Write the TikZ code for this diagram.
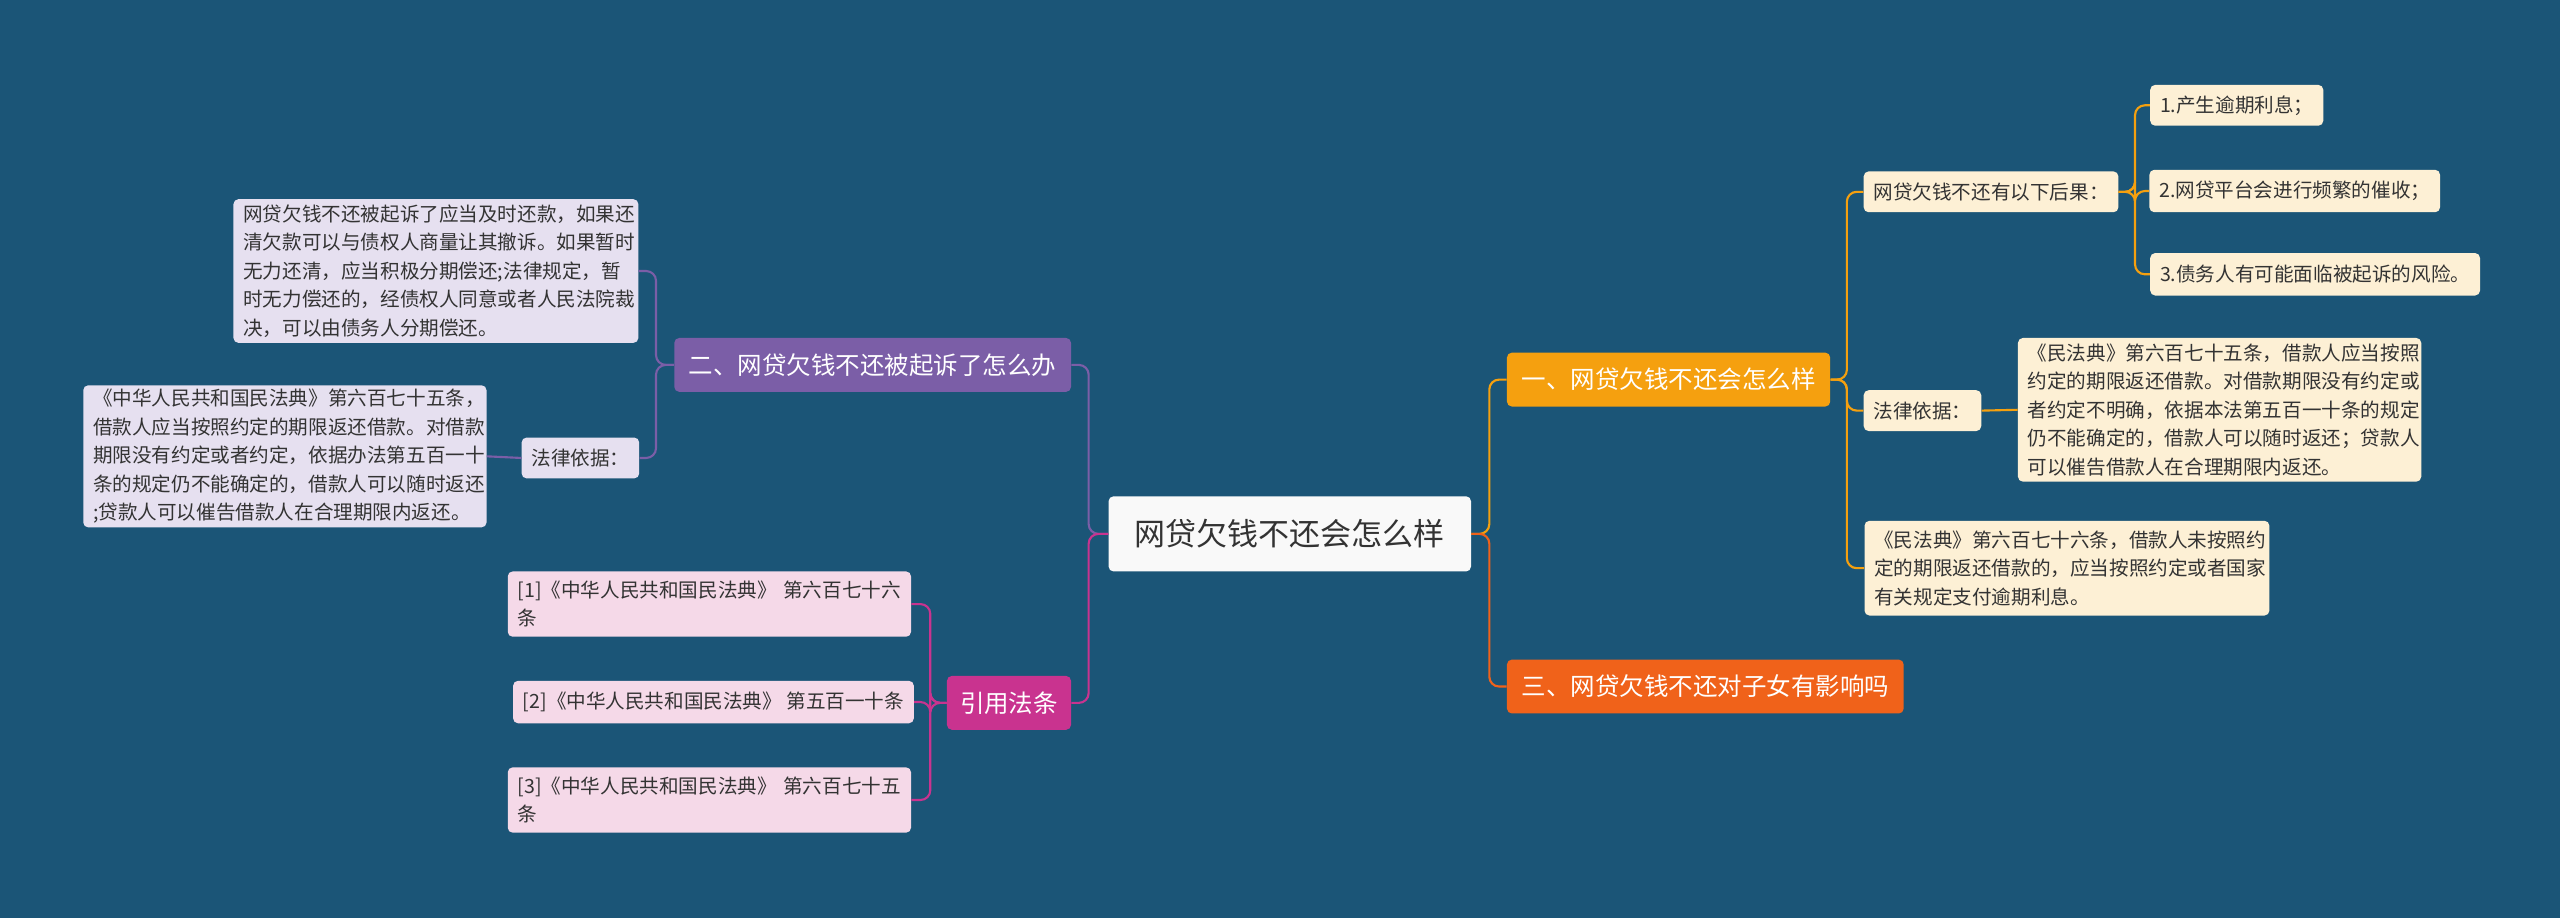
\documentclass[tikz,border=0pt]{standalone}
\usepackage{fontspec}
\setmainfont{Noto Sans CJK SC}
\definecolor{bg}{HTML}{1B5577}
\definecolor{org}{HTML}{F5A00F}
\definecolor{ored}{HTML}{F0621A}
\definecolor{pur}{HTML}{7B5EA7}
\definecolor{mag}{HTML}{C9338F}
\definecolor{cream}{HTML}{FDF0D5}
\definecolor{lav}{HTML}{E6E0F0}
\definecolor{pink}{HTML}{F5D9E8}
\definecolor{txt}{HTML}{333333}
\begin{document}
\begin{tikzpicture}[x=1pt,y=-1pt,
  bx/.style={rounded corners=3pt, inner ysep=0pt, inner xsep=6pt, align=left, text=txt, font=\fontsize{12}{17.5}\selectfont},
  br/.style={rounded corners=3pt, inner sep=0pt, align=center, text=white, font=\fontsize{15}{18}\selectfont},
  ln/.style={line width=1.3pt, rounded corners=6pt}]
\fill[bg] (0,0) rectangle (1568,562);
\useasboundingbox (0,0) rectangle (1568,562);
% center
\node[rounded corners=3pt, fill=white!95!gray, text=txt, font=\fontsize{19}{22}\selectfont, minimum width=222pt, minimum height=46pt, inner sep=0pt] (c) at (790,327) {网贷欠钱不还会怎么样};
% right branches
\node[br, fill=org, minimum width=198pt, minimum height=33pt] (r1) at (1022,232.5) {一、网贷欠钱不还会怎么样};
\node[br, fill=ored, minimum width=243pt, minimum height=33pt] (r2) at (1044.5,420.5) {三、网贷欠钱不还对子女有影响吗};
\node[bx, fill=cream, minimum width=155pt, minimum height=25pt, align=center] (a1) at (1219.5,117.5) {网贷欠钱不还有以下后果：};
\node[bx, fill=cream, minimum width=102pt, minimum height=25pt, align=center] (a11) at (1370,64.5) {1.产生逾期利息；};
\node[bx, fill=cream, minimum width=173pt, minimum height=26pt, align=center] (a12) at (1405.5,117) {2.网贷平台会进行频繁的催收；};
\node[bx, fill=cream, minimum width=198pt, minimum height=26pt, align=center] (a13) at (1418,168) {3.债务人有可能面临被起诉的风险。};
\node[bx, fill=cream, minimum width=71pt, minimum height=25pt, align=center] (a2) at (1177.5,251.5) {法律依据：};
\node[bx, fill=cream, text width=235pt, minimum height=88pt] (a21) at (1359.5,251) {《民法典》第六百七十五条，借款人应当按照\\约定的期限返还借款。对借款期限没有约定或\\者约定不明确，依据本法第五百一十条的规定\\仍不能确定的，借款人可以随时返还；贷款人\\可以催告借款人在合理期限内返还。};
\node[bx, fill=cream, text width=236pt, minimum height=58pt] (a3) at (1266,348) {《民法典》第六百七十六条，借款人未按照约\\定的期限返还借款的，应当按照约定或者国家\\有关规定支付逾期利息。};
% left branches
\node[br, fill=pur, minimum width=243pt, minimum height=33pt] (l1) at (534.5,223.5) {二、网贷欠钱不还被起诉了怎么办};
\node[bx, fill=lav, text width=236pt, minimum height=88pt] (b1) at (267,166) {网贷欠钱不还被起诉了应当及时还款，如果还\\清欠款可以与债权人商量让其撤诉。如果暂时\\无力还清，应当积极分期偿还;法律规定，暂\\时无力偿还的，经债权人同意或者人民法院裁\\决，可以由债务人分期偿还。};
\node[bx, fill=lav, minimum width=71pt, minimum height=25pt, align=center] (b2) at (355.5,280.5) {法律依据：};
\node[bx, fill=lav, text width=235pt, minimum height=87pt] (b21) at (174.5,279.5) {《中华人民共和国民法典》第六百七十五条，\\借款人应当按照约定的期限返还借款。对借款\\期限没有约定或者约定，依据办法第五百一十\\条的规定仍不能确定的，借款人可以随时返还\\;贷款人可以催告借款人在合理期限内返还。};
\node[br, fill=mag, minimum width=76pt, minimum height=33pt] (l2) at (618,430.5) {引用法条};
\node[bx, fill=pink, text width=235pt, minimum height=40pt] (p1) at (434.5,370) {[1]《中华人民共和国民法典》 第六百七十六\\条};
\node[bx, fill=pink, minimum width=242pt, minimum height=26pt, align=center] (p2) at (437,430) {[2]《中华人民共和国民法典》 第五百一十条};
\node[bx, fill=pink, text width=235pt, minimum height=40pt] (p3) at (434.5,490) {[3]《中华人民共和国民法典》 第六百七十五\\条};
% connectors
\foreach \n in {r1}{\draw[ln, org] (c.east) -- ++(11,0) |- (\n.west);}
\draw[ln, ored] (c.east) -- ++(11,0) |- (r2.west);
\foreach \n in {a1,a2,a3}{\draw[ln, org] (r1.east) -- ++(10,0) |- (\n.west);}
\foreach \n in {a11,a12,a13}{\draw[ln, org] (a1.east) -- ++(10,0) |- (\n.west);}
\draw[ln, org] (a2.east) -- (a21.west);
\draw[ln, pur] (c.west) -- ++(-12,0) |- (l1.east);
\draw[ln, mag] (c.west) -- ++(-12,0) |- (l2.east);
\foreach \n in {b1,b2}{\draw[ln, pur] (l1.west) -- ++(-11,0) |- (\n.east);}
\draw[ln, pur] (b2.west) -- (b21.east);
\foreach \n in {p1,p2,p3}{\draw[ln, mag] (l2.west) -- ++(-10,0) |- (\n.east);}
\end{tikzpicture}
\end{document}
